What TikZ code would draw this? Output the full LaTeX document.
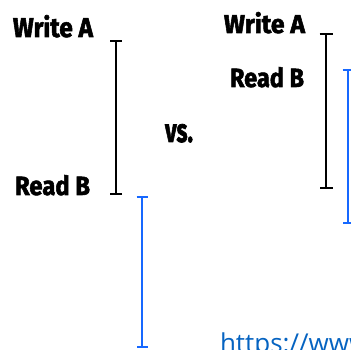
\documentclass[tikz,border=0pt]{standalone}
\usepackage{fontspec}
\setmainfont{Fira Sans}
\newfontfamily\heavyfont[BoldFeatures={FakeBold=2.2}]{Fira Sans}
\newfontfamily\linkfont{Open Sans}
\usetikzlibrary{arrows.meta}
\definecolor{barblue}{RGB}{22,104,255}
\definecolor{linkblue}{RGB}{5,99,193}
% heavy condensed label fitted to a given width and cap height
\newcommand{\fitlabel}[3]{\resizebox{#1pt}{#2pt}{\heavyfont\bfseries #3}}
\tikzset{
  lbl/.style={anchor=base west, inner sep=0pt, outer sep=0pt},
  span/.style={line width=2pt, {Bar[width=#1,line width=2pt]}-{Bar[width=#1,line width=2pt]}},
}
\begin{document}
\begin{tikzpicture}[x=1pt,y=-1pt]
  \useasboundingbox (0,0) rectangle (351,350);
  \clip (0,0) rectangle (351,350);

  % left timeline: write then read, sequential
  \node[lbl] (wA1) at (13,37) {\fitlabel{80}{22}{Write A}};
  \node[lbl] (rB1) at (15,195) {\fitlabel{75}{20}{Read B}};
  \coordinate (w1s) at (116,40);
  \coordinate (w1e) at (116,195);
  \coordinate (r1s) at (142,196);
  \coordinate (r1e) at (142,348);
  \draw[span=12pt] (w1s) -- (w1e);
  \draw[span=11pt, barblue] (r1s) -- (r1e);

  \node[lbl] (vs) at (165,142) {\fitlabel{28}{18}{vs.}};

  % right timeline: read overlaps the write
  \node[lbl] (wA2) at (224,33) {\fitlabel{81}{21}{Write A}};
  \node[lbl] (rB2) at (230,87) {\fitlabel{74}{20}{Read B}};
  \coordinate (w2s) at (326,33);
  \coordinate (w2e) at (326,189);
  \coordinate (r2s) at (348,69);
  \coordinate (r2e) at (348,224);
  \draw[span=13pt] (w2s) -- (w2e);
  \draw[span=11pt, barblue] (r2s) -- (r2e);

  \node[lbl, text=linkblue, font=\linkfont\fontsize{26}{26}\selectfont] (url) at (220,352) {https://www};
\end{tikzpicture}
\end{document}
